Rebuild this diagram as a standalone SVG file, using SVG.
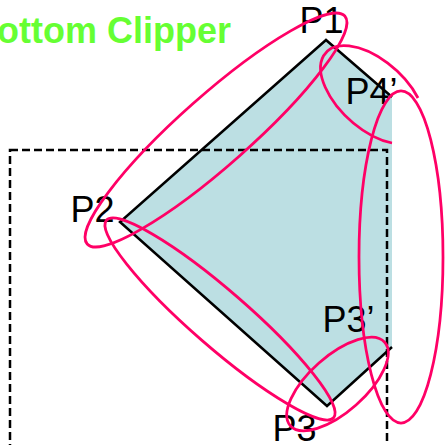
<svg xmlns="http://www.w3.org/2000/svg" width="446" height="445" viewBox="0 0 446 445">
  <style>
    .lbl { font-family: "Liberation Sans", Arial, sans-serif; font-size: 36px; fill: #000; }
    .title { font-family: "Liberation Sans", Arial, sans-serif; font-size: 36px; font-weight: bold; fill: #66ff33; }
    .ring { fill: none; stroke: #ff0066; stroke-width: 2.75; }
    .edge { fill: none; stroke: #000; stroke-width: 2.5; stroke-linejoin: miter; }
    .win { fill: none; stroke: #000; stroke-width: 2.5; stroke-dasharray: 8 4; }
  </style>
  <rect width="446" height="445" fill="#fff"/>
  <g id="title">
    <text class="title" x="231" y="43" text-anchor="end">Bottom Clipper</text>
  </g>
  <g id="polygon">
    <polygon points="326,40 120,222 327,406 392,347 392,97" fill="#bcdfe3"/>
    <polyline class="edge" points="392,97 326,40 120,222 327,406 392,347"/>
  </g>
  <g id="clip-window">
    <rect class="win" x="10" y="150" width="377" height="320"/>
  </g>
  <g id="labels">
    <text class="lbl" x="299.5" y="33">P1</text>
    <text class="lbl" x="70.5" y="222">P2</text>
    <text class="lbl" x="272.5" y="441">P3</text>
    <text class="lbl" x="322.5" y="332">P3’</text>
    <text class="lbl" x="345.5" y="104">P4’</text>
  </g>
  <g id="rings">
    <ellipse class="ring" cx="216" cy="130" rx="172" ry="35" transform="rotate(-41.5 216 130)"/>
    <ellipse class="ring" cx="220" cy="319" rx="150.5" ry="28" transform="rotate(41 220 319)"/>
    <ellipse class="ring" cx="337.5" cy="384" rx="63" ry="28" transform="rotate(-41.5 337.5 384)"/>
    <ellipse class="ring" cx="401" cy="257" rx="42" ry="166"/>
    <path class="ring" d="M392,143 A63,34 42 1,1 418,98"/>
  </g>
</svg>
